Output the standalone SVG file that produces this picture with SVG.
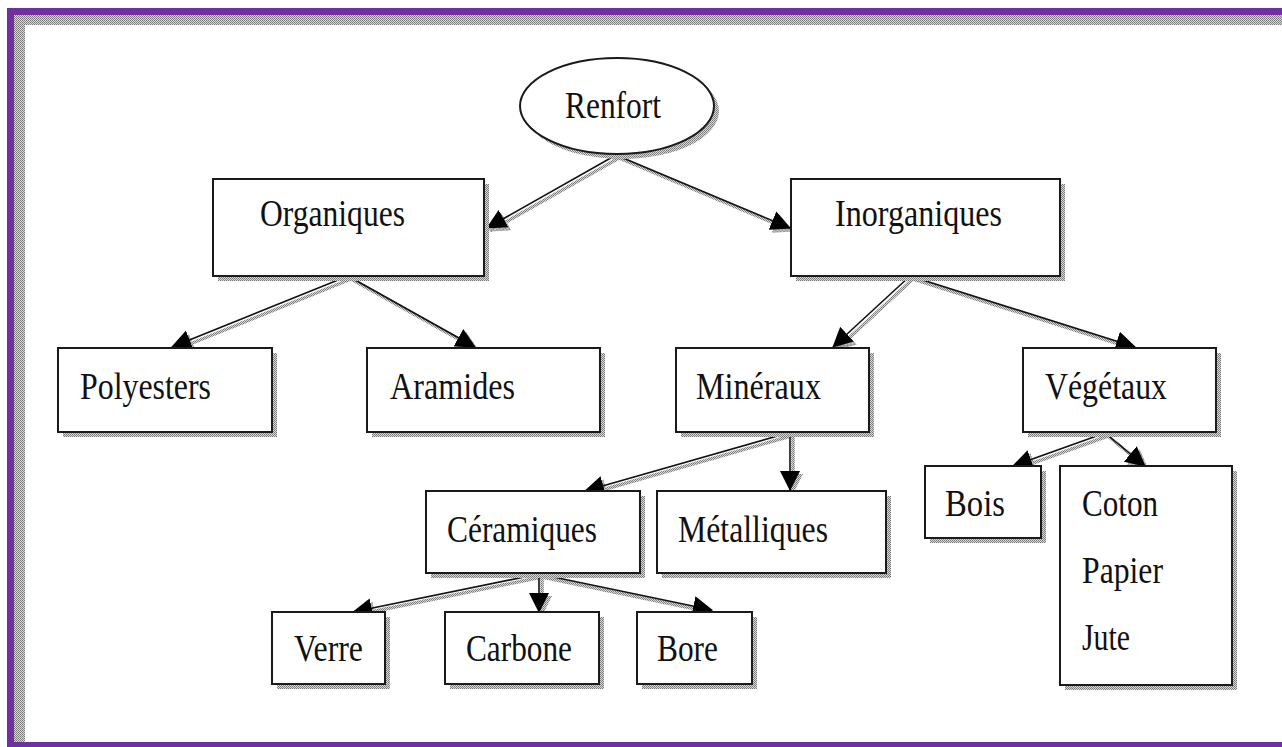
<svg xmlns="http://www.w3.org/2000/svg" width="1282" height="747" viewBox="0 0 1282 747">
<defs>
<pattern id="dither" width="2" height="2" patternUnits="userSpaceOnUse">
<rect width="2" height="2" fill="#d8d8d8"/>
<rect width="1" height="1" fill="#777"/>
<rect x="1" y="1" width="1" height="1" fill="#888"/>
</pattern>
<marker id="arr" markerUnits="userSpaceOnUse" markerWidth="22" markerHeight="20" refX="19" refY="10" orient="auto">
<path d="M0,0 L20,10 L0,20 z" fill="#000"/>
</marker>
<marker id="arrs" markerUnits="userSpaceOnUse" markerWidth="22" markerHeight="20" refX="19" refY="10" orient="auto">
<path d="M0,0 L20,10 L0,20 z" fill="url(#dither)"/>
</marker>
</defs>
<style>
.box{fill:#fff;stroke:#1a1a1a;stroke-width:2}
.sh{fill:url(#dither)}
.t{font-family:"Liberation Serif","Times New Roman",serif;font-size:37px;fill:#111}
.ln{stroke:#111;stroke-width:1.6;fill:none;marker-end:url(#arr)}
.lns{stroke:url(#dither);stroke-width:3.5;fill:none;marker-end:url(#arrs)}
</style>
<rect width="1282" height="747" fill="#fff"/>
<g id="frame">
<rect x="14" y="15" width="1268" height="10" fill="url(#dither)"/>
<rect x="14" y="15" width="11" height="727" fill="url(#dither)"/>
<rect x="7" y="8" width="1275" height="7" fill="#7030a0"/>
<rect x="7" y="8" width="7" height="739" fill="#7030a0"/>
<rect x="7" y="742" width="1275" height="5" fill="#7030a0"/>
</g>
<g id="connectors">
<g transform="translate(3,3)">
<path class="lns" d="M616,155 L487,228"/>
<path class="lns" d="M616,155 L790,228"/>
<path class="lns" d="M348,276 L172,347"/>
<path class="lns" d="M348,276 L475,347"/>
<path class="lns" d="M910,276 L833,347"/>
<path class="lns" d="M910,276 L1135,347"/>
<path class="lns" d="M788,433 L585,491"/>
<path class="lns" d="M790,433 L790,490"/>
<path class="lns" d="M1105,433 L1013,466"/>
<path class="lns" d="M1105,433 L1145,466"/>
<path class="lns" d="M539,574 L353,612"/>
<path class="lns" d="M539,574 L539,612"/>
<path class="lns" d="M539,574 L712,610"/>
</g>
<path class="ln" d="M616,155 L487,228"/>
<path class="ln" d="M616,155 L790,228"/>
<path class="ln" d="M348,276 L172,347"/>
<path class="ln" d="M348,276 L475,347"/>
<path class="ln" d="M910,276 L833,347"/>
<path class="ln" d="M910,276 L1135,347"/>
<path class="ln" d="M788,433 L585,491"/>
<path class="ln" d="M790,433 L790,490"/>
<path class="ln" d="M1105,433 L1013,466"/>
<path class="ln" d="M1105,433 L1145,466"/>
<path class="ln" d="M539,574 L353,612"/>
<path class="ln" d="M539,574 L539,612"/>
<path class="ln" d="M539,574 L712,610"/>
</g>
<g id="renfort">
<ellipse class="sh" cx="622" cy="111" rx="97" ry="48"/>
<ellipse class="box" cx="617" cy="106" rx="97" ry="48"/>
<text class="t" x="565" y="118" textLength="96" lengthAdjust="spacingAndGlyphs">Renfort</text>
</g>
<g id="organiques">
<rect class="sh" x="218" y="184" width="271" height="97"/>
<rect class="box" x="213" y="179" width="271" height="97"/>
<text class="t" x="260" y="226" textLength="145" lengthAdjust="spacingAndGlyphs">Organiques</text>
</g>
<g id="inorganiques">
<rect class="sh" x="796" y="184" width="269" height="97"/>
<rect class="box" x="791" y="179" width="269" height="97"/>
<text class="t" x="835" y="226" textLength="167" lengthAdjust="spacingAndGlyphs">Inorganiques</text>
</g>
<g id="polyesters">
<rect class="sh" x="63" y="353" width="214" height="84"/>
<rect class="box" x="58" y="348" width="214" height="84"/>
<text class="t" x="80" y="399" textLength="131" lengthAdjust="spacingAndGlyphs">Polyesters</text>
</g>
<g id="aramides">
<rect class="sh" x="372" y="353" width="233" height="84"/>
<rect class="box" x="367" y="348" width="233" height="84"/>
<text class="t" x="390" y="399" textLength="125" lengthAdjust="spacingAndGlyphs">Aramides</text>
</g>
<g id="mineraux">
<rect class="sh" x="681" y="353" width="193" height="84"/>
<rect class="box" x="676" y="348" width="193" height="84"/>
<text class="t" x="696" y="399" textLength="125" lengthAdjust="spacingAndGlyphs">Minéraux</text>
</g>
<g id="vegetaux">
<rect class="sh" x="1028" y="353" width="193" height="84"/>
<rect class="box" x="1023" y="348" width="193" height="84"/>
<text class="t" x="1045" y="399" textLength="122" lengthAdjust="spacingAndGlyphs">Végétaux</text>
</g>
<g id="ceramiques">
<rect class="sh" x="431" y="496" width="214" height="82"/>
<rect class="box" x="426" y="491" width="214" height="82"/>
<text class="t" x="447" y="542" textLength="150" lengthAdjust="spacingAndGlyphs">Céramiques</text>
</g>
<g id="metalliques">
<rect class="sh" x="662" y="496" width="229" height="82"/>
<rect class="box" x="657" y="491" width="229" height="82"/>
<text class="t" x="678" y="542" textLength="150" lengthAdjust="spacingAndGlyphs">Métalliques</text>
</g>
<g id="bois">
<rect class="sh" x="930" y="471" width="116" height="72"/>
<rect class="box" x="925" y="466" width="116" height="72"/>
<text class="t" x="945" y="516" textLength="60" lengthAdjust="spacingAndGlyphs">Bois</text>
</g>
<g id="coton-papier-jute">
<rect class="sh" x="1065" y="471" width="172" height="219"/>
<rect class="box" x="1060" y="466" width="172" height="219"/>
<text class="t" x="1082" y="516" textLength="76" lengthAdjust="spacingAndGlyphs">Coton</text>
<text class="t" x="1082" y="583" textLength="81" lengthAdjust="spacingAndGlyphs">Papier</text>
<text class="t" x="1082" y="650" textLength="48" lengthAdjust="spacingAndGlyphs">Jute</text>
</g>
<g id="verre">
<rect class="sh" x="277" y="617" width="113" height="72"/>
<rect class="box" x="272" y="612" width="113" height="72"/>
<text class="t" x="294" y="661" textLength="69" lengthAdjust="spacingAndGlyphs">Verre</text>
</g>
<g id="carbone">
<rect class="sh" x="450" y="617" width="154" height="72"/>
<rect class="box" x="445" y="612" width="154" height="72"/>
<text class="t" x="466" y="661" textLength="106" lengthAdjust="spacingAndGlyphs">Carbone</text>
</g>
<g id="bore">
<rect class="sh" x="642" y="617" width="115" height="72"/>
<rect class="box" x="637" y="612" width="115" height="72"/>
<text class="t" x="657" y="661" textLength="61" lengthAdjust="spacingAndGlyphs">Bore</text>
</g>
</svg>
